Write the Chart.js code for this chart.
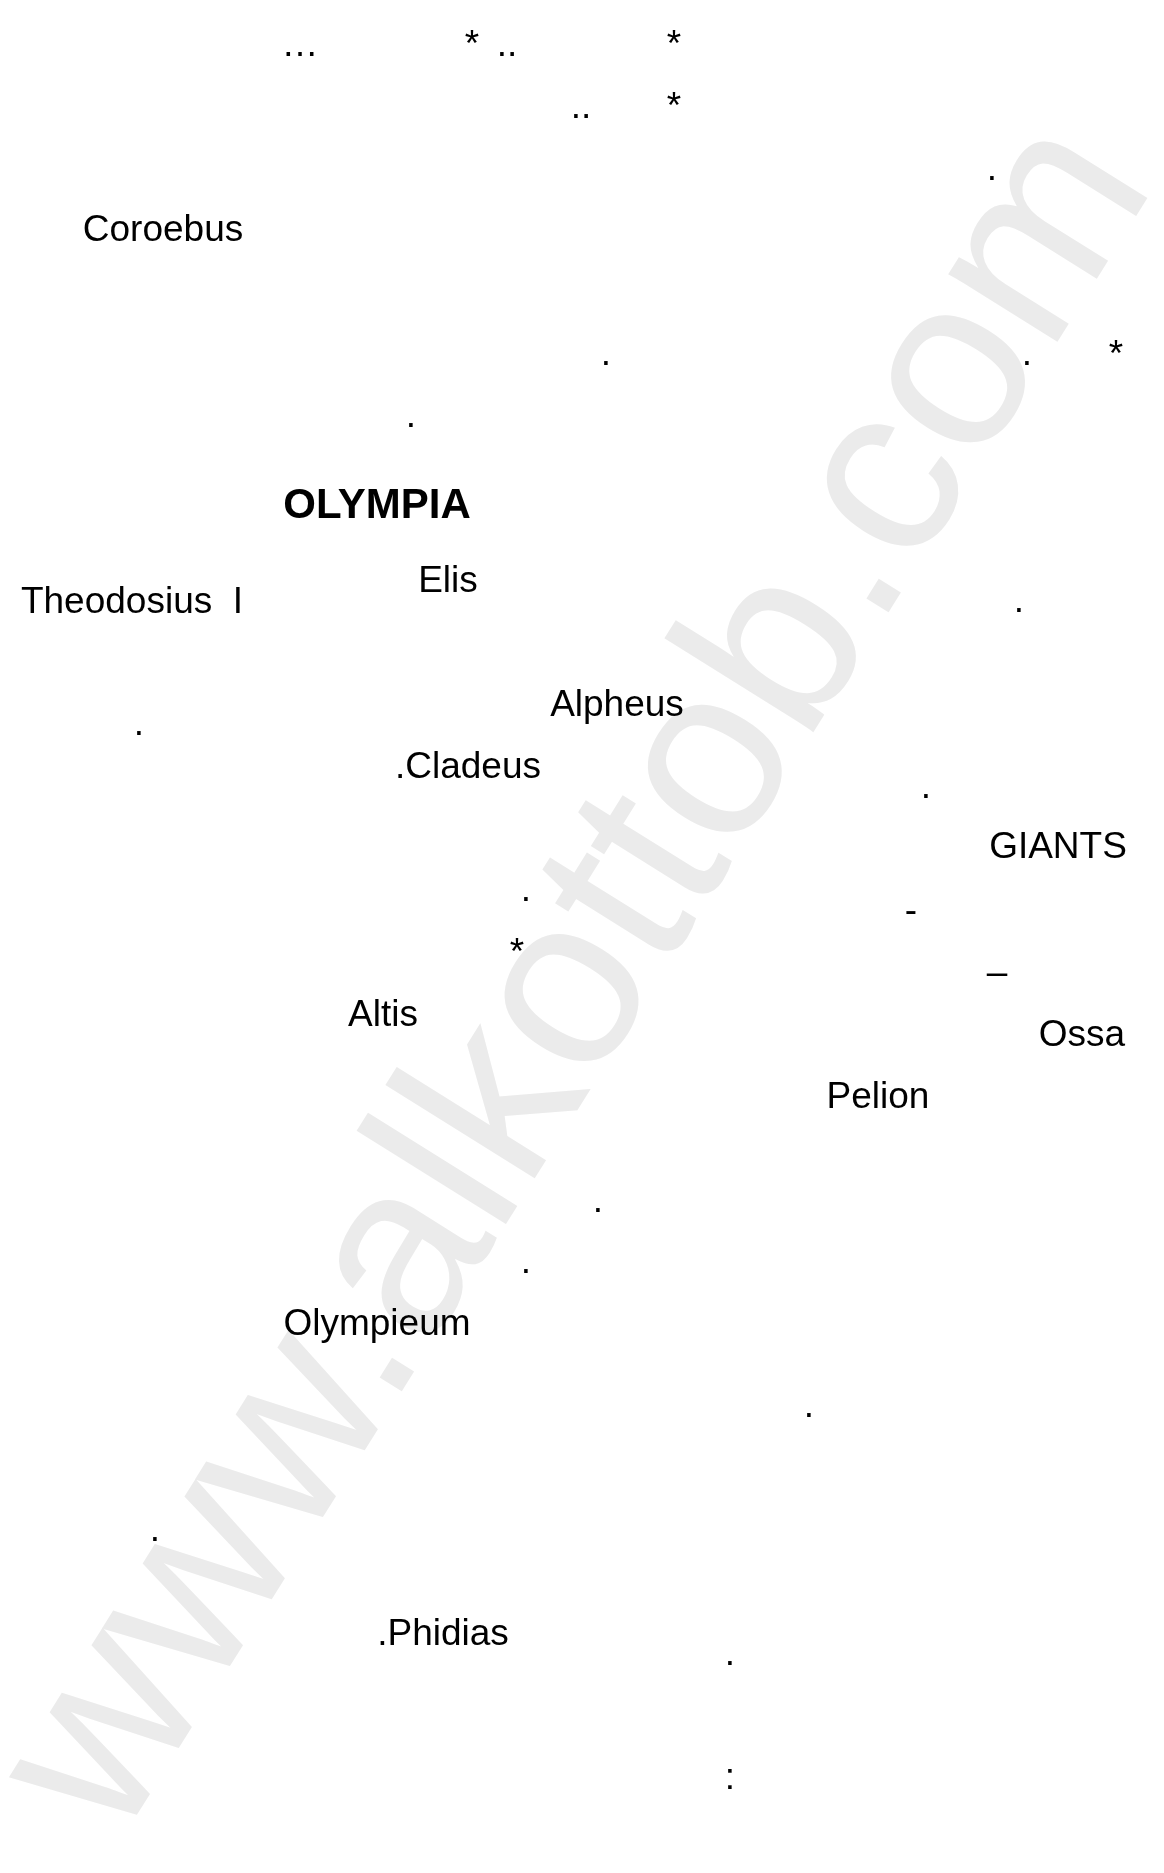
<!DOCTYPE html>
<html>
<head>
<meta charset="utf-8">
<script src="https://cdn.jsdelivr.net/npm/chart.js@4.4.0/dist/chart.umd.min.js"></script>
<style>
  html, body { margin: 0; padding: 0; background: #ffffff; overflow: hidden; }
  #wrap { width: 1164px; height: 1873px; position: relative; }
  canvas { display: block; }
</style>
</head>
<body>
<div id="wrap"><canvas id="c" width="1164" height="1873"></canvas></div>
<script>
// Text marks (label, horizontal centre, baseline)
const labels = [
  "\u2026", "*", "..", "*",
  "..", "*",
  ".",
  "Coroebus",
  ".", ".", "*",
  ".",
  "OLYMPIA",
  "Elis",
  "Theodosius  I", ".",
  "Alpheus",
  ".",
  ".Cladeus",
  ".",
  "GIANTS",
  ".", "-",
  "*",
  "\u2013",
  "Altis",
  "Ossa",
  "Pelion",
  ".", ".",
  "Olympieum",
  ".",
  ".",
  ".Phidias",
  ".",
  ":"
];
const xs = [
  300, 472, 507, 674,
  581, 674,
  992,
  163,
  606, 1027, 1116,
  411,
  377,
  448,
  132, 1019,
  617,
  139,
  468,
  926,
  1058,
  526, 911,
  517,
  997,
  383,
  1082,
  878,
  598, 526,
  377,
  809,
  155,
  443,
  730,
  730
];
const ys = [
  56, 56, 56, 56,
  118, 118,
  180,
  241,
  365, 365, 366,
  427,
  518,
  592,
  613, 612,
  716,
  735,
  778,
  798,
  858,
  901, 922,
  964,
  984,
  1026,
  1046,
  1108,
  1212, 1273,
  1335,
  1417,
  1541,
  1645,
  1665,
  1789
];
const headingLabels = ["OLYMPIA"];
const watermarkText = "www.alkottob.com";

const points = labels.map((t, i) => ({ x: xs[i], y: ys[i], label: t }));

const watermarkPlugin = {
  id: "watermark",
  beforeDatasetsDraw(chart) {
    const ctx = chart.ctx;
    const sx = chart.scales.x, sy = chart.scales.y;
    ctx.save();
    ctx.translate(sx.getPixelForValue(118), sy.getPixelForValue(1845));
    ctx.rotate(-58 * Math.PI / 180);
    ctx.font = "243px 'Liberation Sans', Arial, sans-serif";
    ctx.fillStyle = "#ebebeb";
    ctx.textAlign = "left";
    ctx.textBaseline = "alphabetic";
    ctx.fillText(watermarkText, 0, 0);
    ctx.restore();
  }
};

const labelPlugin = {
  id: "textMarks",
  afterDatasetsDraw(chart) {
    const ctx = chart.ctx;
    const meta = chart.getDatasetMeta(0);
    ctx.save();
    ctx.fillStyle = "#000000";
    ctx.textAlign = "center";
    ctx.textBaseline = "alphabetic";
    meta.data.forEach((el, i) => {
      const d = chart.data.datasets[0].data[i];
      const bold = headingLabels.includes(d.label);
      ctx.font = bold ? "bold 42px 'Liberation Sans', Arial, sans-serif"
                      : "37px 'Liberation Sans', Arial, sans-serif";
      ctx.fillText(d.label, el.x, el.y);
    });
    ctx.restore();
  }
};

new Chart(document.getElementById("c"), {
  type: "scatter",
  data: {
    datasets: [{
      data: points,
      pointRadius: 0,
      pointHoverRadius: 0,
      showLine: false
    }]
  },
  options: {
    responsive: false,
    animation: false,
    devicePixelRatio: 1,
    layout: { padding: 0 },
    events: [],
    plugins: { legend: { display: false }, tooltip: { enabled: false }, title: { display: false } },
    scales: {
      x: { type: "linear", min: 0, max: 1164, display: false },
      y: { type: "linear", min: 0, max: 1873, reverse: true, display: false }
    }
  },
  plugins: [watermarkPlugin, labelPlugin]
});
</script>
</body>
</html>
